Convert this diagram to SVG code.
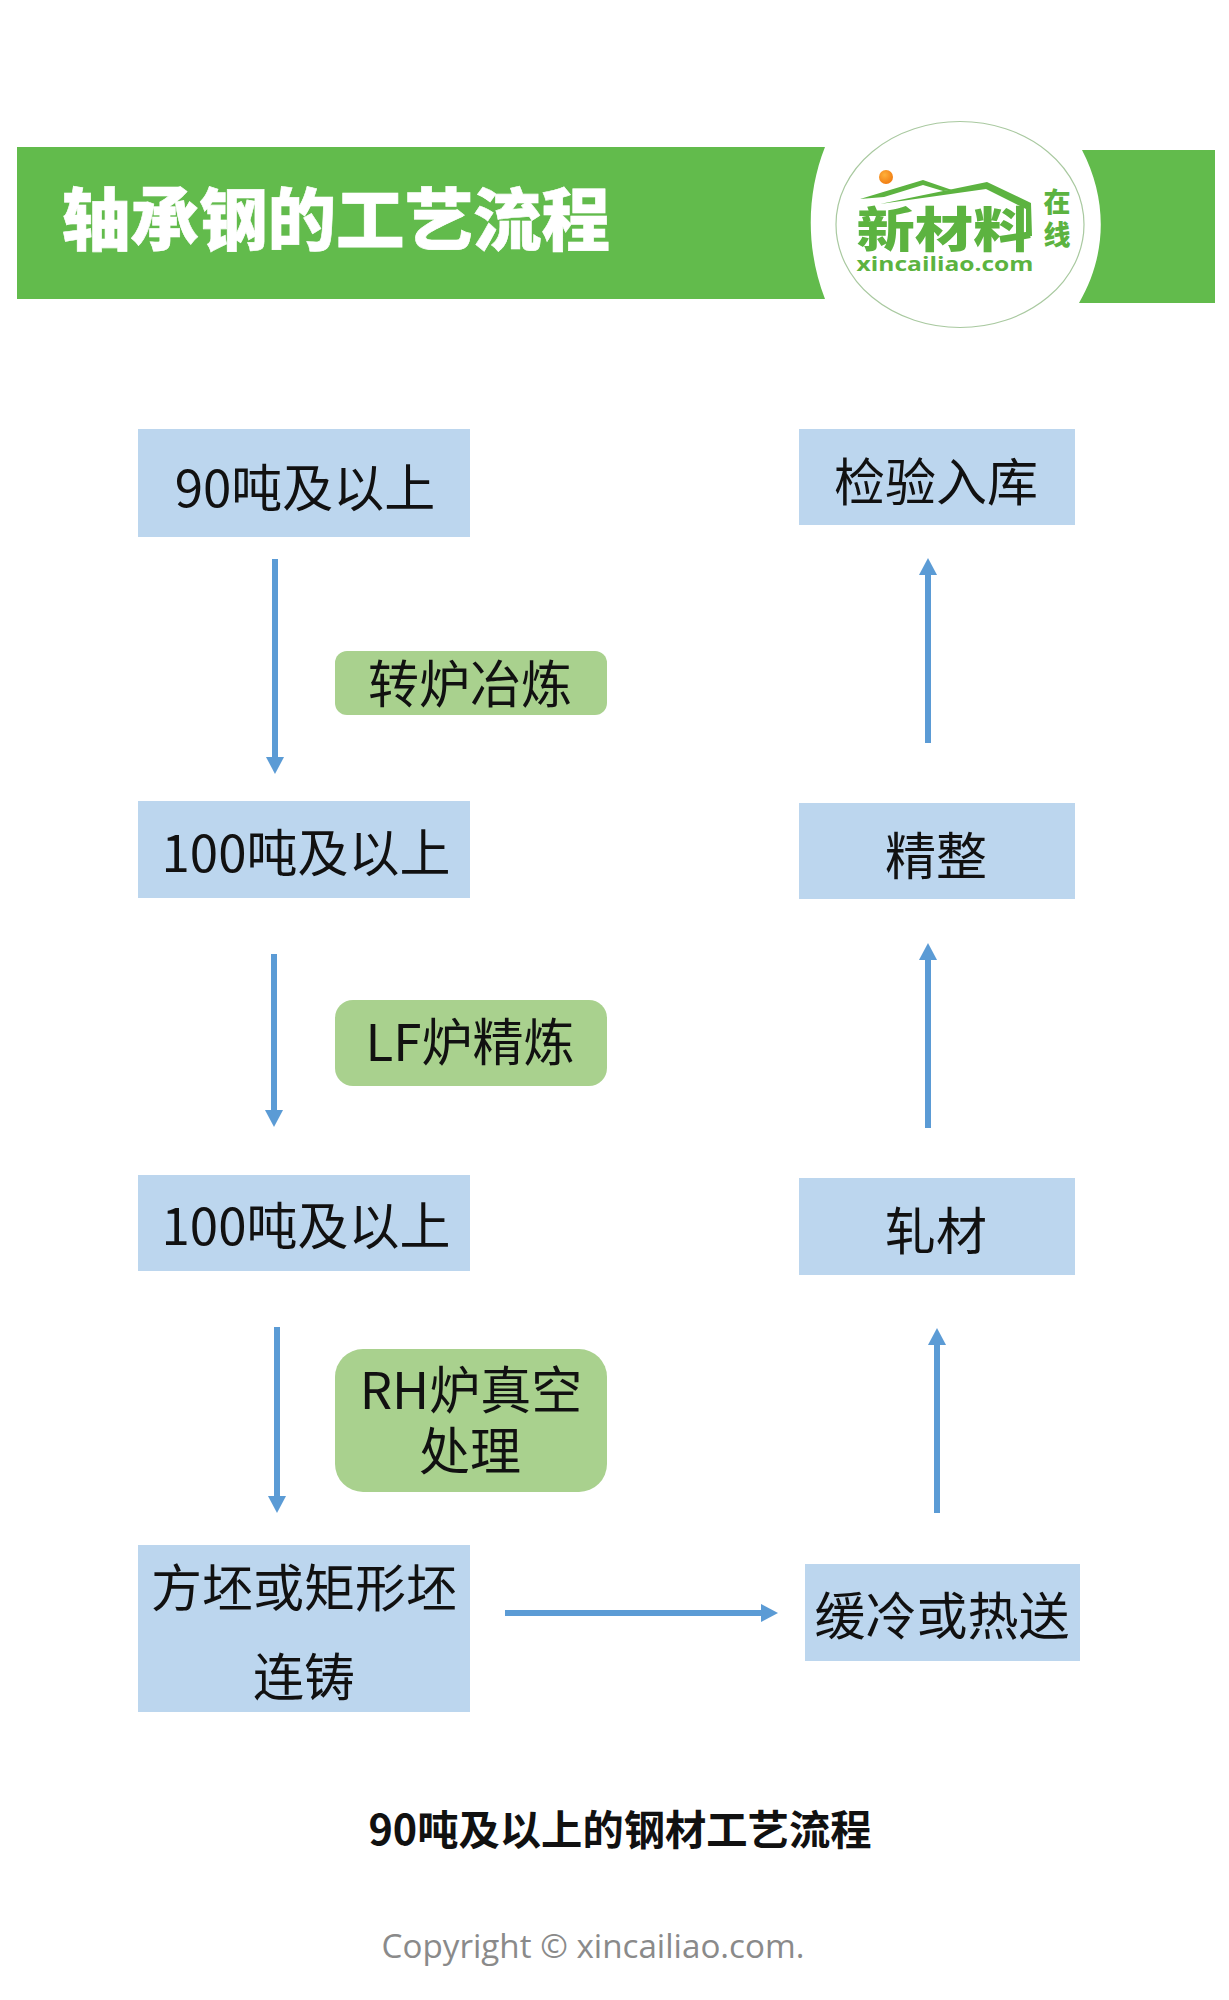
<svg xmlns="http://www.w3.org/2000/svg" width="1229" height="2000" viewBox="0 0 1229 2000">
<style>
text{font-family:"Noto Sans CJK SC","Noto Sans",sans-serif;text-anchor:middle}
.t{font-size:51px;fill:#111}
.box{fill:#bcd6ee}
.op{fill:#a9d18e}
.c{stroke:#5b9bd5;stroke-width:6;fill:none;marker-end:url(#a)}
.logo{fill:#5cb340;font-weight:900}
</style>
<defs>
<marker id="a" markerUnits="userSpaceOnUse" markerWidth="18" markerHeight="20" refX="0" refY="10" orient="auto" overflow="visible"><path d="M0 1L17 10L0 19Z" fill="#5b9bd5"/></marker>
<radialGradient id="sun" cx=".4" cy=".35" r=".7"><stop offset="0" stop-color="#ffb03a"/><stop offset="1" stop-color="#f07a10"/></radialGradient>
</defs>
<rect width="1229" height="2000" fill="#fff"/>
<g id="banner">
<path d="M17 147H825C806 195 806 250 825 299H17Z" fill="#62bb4c"/>
<path d="M1082 150H1215V303H1079C1107 255 1108 200 1082 150Z" fill="#62bb4c"/>
<text x="336" y="245" font-size="68.500" font-weight="900" fill="#fff" stroke="#fff" stroke-width="0.600">轴承钢的工艺流程</text>
</g>
<g id="logo">
<ellipse cx="960" cy="224.500" rx="124" ry="103" fill="#fff" stroke="#a9c9a0" stroke-width="1.200"/>
<circle cx="886" cy="177" r="7" fill="url(#sun)"/>
<path d="M860 199L923 180L952 190L943 191L923 185L884 197Z" fill="#5cb340"/>
<path d="M880 204L987 182L1031 203L1032 236H1026V209L986 189Z" fill="#5cb340"/>
<text class="logo" x="944" y="247" font-size="48" textLength="175" lengthAdjust="spacingAndGlyphs">新材料</text>
<text class="logo" x="1057" y="221" font-size="27" letter-spacing="6" style="writing-mode:vertical-rl">在线</text>
<text x="945" y="271" font-size="19" font-weight="700" fill="#5cb340" textLength="177" lengthAdjust="spacingAndGlyphs" style="font-family:'Open Sans',sans-serif">xincailiao.com</text>
</g>
<g id="connectors">
<path class="c" d="M275 559V757"/>
<path class="c" d="M274 954V1110"/>
<path class="c" d="M277 1327V1496"/>
<path class="c" d="M505 1613H761"/>
<path class="c" d="M937 1513V1345"/>
<path class="c" d="M928 1128V960"/>
<path class="c" d="M928 743V575"/>
</g>
<g id="n1"><rect class="box" x="138" y="429" width="332" height="108"/><text class="t" x="305" y="507">90吨及以上</text></g>
<g id="n2"><rect class="box" x="138" y="801" width="332" height="97"/><text class="t" x="306" y="872">100吨及以上</text></g>
<g id="n3"><rect class="box" x="138" y="1175" width="332" height="96"/><text class="t" x="306" y="1245">100吨及以上</text></g>
<g id="n4"><rect class="box" x="138" y="1545" width="332" height="167"/><text class="t" x="304" y="1607">方坯或矩形坯</text><text class="t" x="304" y="1696">连铸</text></g>
<g id="n5"><rect class="box" x="805" y="1564" width="275" height="97"/><text class="t" x="942" y="1635">缓冷或热送</text></g>
<g id="n6"><rect class="box" x="799" y="1178" width="276" height="97"/><text class="t" x="936" y="1250">轧材</text></g>
<g id="n7"><rect class="box" x="799" y="803" width="276" height="96"/><text class="t" x="936" y="875">精整</text></g>
<g id="n8"><rect class="box" x="799" y="429" width="276" height="96"/><text class="t" x="936" y="501">检验入库</text></g>
<g id="o1"><rect class="op" x="335" y="651" width="272" height="64" rx="12"/><text class="t" x="470" y="703">转炉冶炼</text></g>
<g id="o2"><rect class="op" x="335" y="1000" width="272" height="86" rx="18"/><text class="t" x="470" y="1061">LF炉精炼</text></g>
<g id="o3"><rect class="op" x="335" y="1349" width="272" height="143" rx="28"/><text class="t" y="1409"><tspan x="471">RH炉真空</tspan><tspan x="470" dy="61">处理</tspan></text></g>
<text x="620" y="1845" font-size="41.300" font-weight="700" fill="#111">90吨及以上的钢材工艺流程</text>
<text x="593" y="1958" font-size="33.200" fill="#8a8a8a" style="font-family:'Open Sans',sans-serif">Copyright © xincailiao.com.</text>
</svg>
